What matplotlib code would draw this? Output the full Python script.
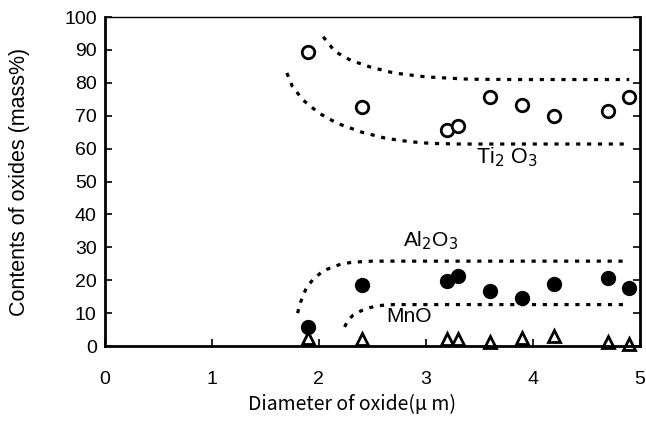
import matplotlib
matplotlib.use("Agg")
import matplotlib.pyplot as plt

# Measured points
diam = [1.9, 2.4, 3.2, 3.3, 3.6, 3.9, 4.2, 4.7, 4.9]
ti2o3 = [89.3, 72.6, 65.6, 66.9, 75.8, 73.3, 69.9, 71.4, 75.7]
al2o3 = [5.9, 18.6, 19.9, 21.3, 16.8, 14.5, 18.8, 20.8, 17.6]
mno = [2.5, 2.0, 2.1, 2.0, 1.3, 2.3, 3.0, 1.3, 0.5]

# Dotted guide curves
ti_up_x = [2.04, 2.15, 2.3, 2.48, 2.7, 3.0, 3.4, 3.8, 4.9]
ti_up_y = [94.0, 89.5, 86.8, 84.8, 83.0, 81.8, 81.1, 81.0, 81.0]
ti_lo_x = [1.70, 1.75, 1.85, 2.0, 2.17, 2.4, 2.63, 2.85, 3.04, 3.3, 4.9]
ti_lo_y = [83.0, 79.0, 74.8, 70.8, 67.7, 65.0, 63.1, 62.1, 61.6, 61.4, 61.4]
al_x = [1.80, 1.83, 1.88, 1.95, 2.04, 2.13, 2.22, 2.32, 2.5, 4.9]
al_y = [10.0, 13.5, 17.5, 20.5, 22.8, 24.1, 25.0, 25.5, 25.8, 25.8]
mn_x = [2.24, 2.27, 2.32, 2.40, 2.48, 2.56, 2.7, 4.9]
mn_y = [5.8, 7.8, 9.4, 10.8, 11.7, 12.3, 12.6, 12.6]

fig = plt.figure(figsize=(6.46, 4.32), dpi=100)
ax = fig.add_axes([0.1625, 0.199, 0.828, 0.7616])

dot = (0, (1.3, 2.1))
for xs, ys in [(ti_up_x, ti_up_y), (ti_lo_x, ti_lo_y), (al_x, al_y), (mn_x, mn_y)]:
    ax.plot(xs, ys, color="black", linestyle=dot, linewidth=2.3,
            dash_capstyle="butt")

ax.plot(diam, ti2o3, linestyle="none", marker="o", markersize=9,
        markerfacecolor="white", markeredgecolor="black", markeredgewidth=2.0)
ax.plot(diam, al2o3, linestyle="none", marker="o", markersize=10,
        markerfacecolor="black", markeredgecolor="black")
ax.plot(diam, mno, linestyle="none", marker="^", markersize=9,
        markerfacecolor="white", markeredgecolor="black", markeredgewidth=2.0,
        clip_on=False)

lab_font = ["Noto Sans CJK JP", "DejaVu Sans"]
ax.text(3.47, 57.5, "Ti$_{2}$ O$_{3}$", fontsize=15.5, family="Liberation Sans",
        ha="left", va="center")
ax.text(2.79, 32.0, "Al$_{2}$O$_{3}$", fontsize=15, family="Liberation Sans",
        ha="left", va="center")
ax.text(2.63, 9.0, "MnO", fontsize=15, family="Liberation Sans",
        ha="left", va="center")

ax.set_xlim(0, 5)
ax.set_ylim(0, 100)
ax.set_xticks([0, 1, 2, 3, 4, 5])
ax.set_yticks(range(0, 101, 10))
ax.tick_params(axis="both", direction="in", length=5, width=1.2,
               labelsize=14, pad=6)
ax.tick_params(axis="y", right=True)
for lab in ax.get_xticklabels() + ax.get_yticklabels():
    lab.set_family("Liberation Sans")
ax.tick_params(axis="x", pad=18)

for s in ["left", "bottom"]:
    ax.spines[s].set_linewidth(2.0)
ax.spines["right"].set_linewidth(2.0)
ax.spines["top"].set_linewidth(1.0)

ax.set_xlabel("Diameter of oxide(\u03bc m)", fontsize=14, family=lab_font)
ax.xaxis.set_label_coords(0.462, -0.145)
ax.set_ylabel("Contents of oxides (mass%)", fontsize=15.5, family="Liberation Sans")
ax.yaxis.set_label_coords(-0.14, 0.5)

fig.savefig("out.png", dpi=100)
